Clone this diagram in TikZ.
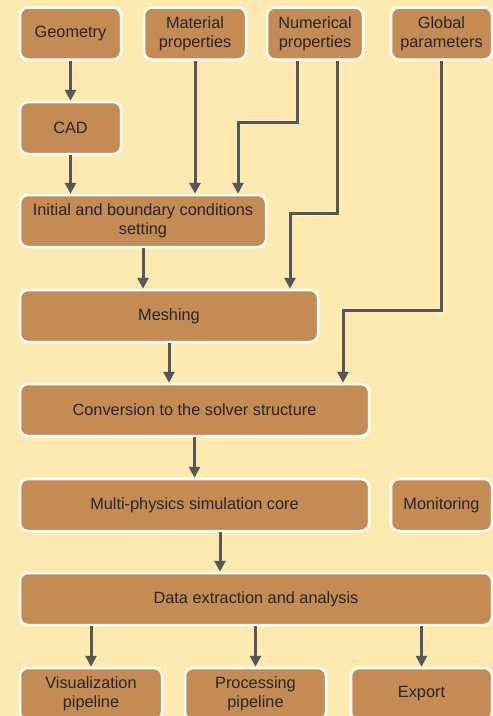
\documentclass[tikz,border=0pt]{standalone}
\usepackage{fontspec}
\setmainfont{Liberation Sans}
\usetikzlibrary{arrows.meta}
\definecolor{bgyellow}{HTML}{FDEAB0}
\definecolor{boxbrown}{HTML}{C48B55}
\definecolor{arrgray}{HTML}{55575A}

\begin{document}
\begin{tikzpicture}[x=1pt, y=-1pt,
    box/.style={draw=white, line width=2.5pt, fill=boxbrown, rounded corners=8pt,
        minimum height=52pt, inner sep=0pt, align=center, text=black!85,
        font=\fontsize{16.3}{19}\selectfont},
    arr/.style={draw=arrgray, line width=3pt, -{Triangle[length=11pt, width=11pt]}}]
    \useasboundingbox (0,0) rectangle (493,716);
    \fill[bgyellow] (0,0) rectangle (493,716);

    % top row
    \node[box, minimum width=101pt] (geo) at (70.5, 33.5) {Geometry};
    \node[box, minimum width=102pt] (mat) at (195, 33.5) {Material\\properties};
    \node[box, minimum width=96pt] (num) at (315, 33.5) {Numerical\\properties};
    \node[box, minimum width=101pt] (glob) at (441.5, 33.5) {Global\\parameters};

    \node[box, minimum width=101pt] (cad) at (70.5, 128) {CAD};
    \node[box, minimum width=246pt] (init) at (143, 221) {Initial and boundary conditions\\setting};
    \node[box, minimum width=298pt] (mesh) at (169, 316) {Meshing};
    \node[box, minimum width=349pt] (conv) at (194.5, 410) {Conversion to the solver structure};
    \node[box, minimum width=349pt] (core) at (194.5, 505) {Multi-physics simulation core};
    \node[box, minimum width=101pt] (mon) at (441.5, 505) {Monitoring};
    \node[box, minimum width=472pt] (data) at (256, 599) {Data extraction and analysis};

    % bottom row (cut by the frame)
    \node[box, minimum width=142pt] (vis) at (91, 694) {Visualization\\pipeline};
    \node[box, minimum width=141pt] (proc) at (255.5, 694) {Processing\\pipeline};
    \node[box, minimum width=141pt] (exp) at (421.5, 694) {Export};

    \coordinate (k1) at (238, 122);
    \coordinate (k2) at (290, 213);
    \coordinate (k3) at (343, 310);

    \draw[arr] (geo) -- (cad);
    \draw[arr] (cad) -- (cad |- init.north);
    \draw[arr] (mat) -- (mat |- init.north);
    \draw[arr] ([xshift=-18pt]num.south) |- (k1) -- (k1 |- init.north);
    \draw[arr] ([xshift=22pt]num.south) |- (k2) -- (k2 |- mesh.north);
    \draw[arr] (glob) |- (k3) -- (k3 |- conv.north);
    \draw[arr] (init) -- (init |- mesh.north);
    \draw[arr] (mesh) -- (mesh |- conv.north);
    \draw[arr] (conv) -- (core);
    \draw[arr] ([xshift=25.5pt]core.south) -- ([xshift=-36pt]data.north);
    \draw[arr] (data.south -| vis) -- (vis);
    \draw[arr] (data.south -| proc) -- (proc);
    \draw[arr] (data.south -| exp) -- (exp);
\end{tikzpicture}
\end{document}
